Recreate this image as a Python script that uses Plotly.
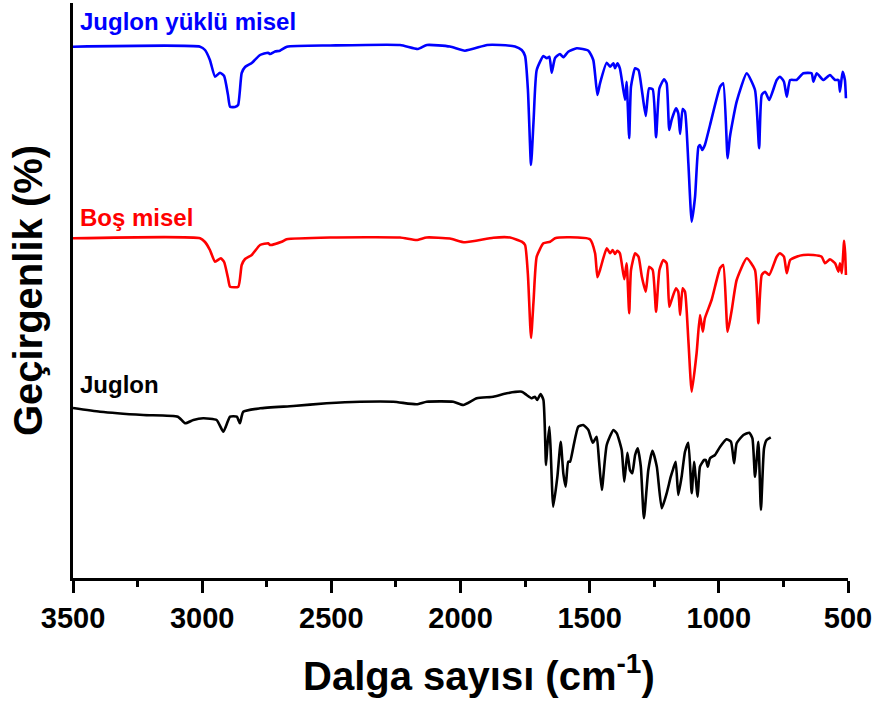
import plotly.graph_objects as go

# ---- data (wavenumber cm^-1, relative transmittance in stacked arbitrary units) ----
blue_x = [3500, 3008, 2989, 2970, 2950, 2931, 2915, 2900, 2892, 2873, 2861, 2847, 2834, 2808, 2776, 2745, 2737, 2718, 2699, 2672,
          2505, 2234, 2165, 2130, 2041, 1983, 1897, 1847, 1789, 1763, 1750, 1739, 1727, 1717, 1705, 1679, 1666, 1656, 1647, 1634,
          1615, 1602, 1583, 1550, 1505, 1486, 1470, 1460, 1434, 1421, 1408, 1402, 1393, 1383, 1363, 1357, 1347, 1340, 1324, 1311,
          1298, 1283, 1270, 1256, 1243, 1230, 1212, 1202, 1192, 1183, 1166, 1157, 1150, 1140, 1131, 1118, 1105, 1092, 1079, 1073,
          1064, 1054, 1034, 995, 983, 966, 957, 931, 892, 860, 844, 834, 821, 805, 776, 763, 748, 737, 724, 699,
          673, 641, 634, 621, 596, 570, 550, 537, 531, 521, 512, 508]
blue_y = [531.3, 531.3, 528, 518, 501.3, 505.3, 502, 483, 471.3, 471, 473, 505, 511, 515, 523, 525.3, 524, 526.5, 527.3, 531.3,
          532.5, 533, 529, 533, 531.5, 527.3, 533, 533, 531.5, 528, 522, 488, 413, 458, 508, 522, 519.7, 521.3, 505.3, 520,
          524, 520.7, 526.3, 529.7, 527.3, 518, 483, 494.7, 515.3, 511.3, 514.7, 509.7, 514.7, 509.7, 478, 496.3, 439.7, 491.3, 509.7, 508,
          488, 462, 489.7, 488.7, 440.7, 489.7, 498.7, 494.7, 448, 458, 469.7, 464.7, 444, 469, 466.3, 415, 356.3, 381.3, 431.3, 433,
          428, 433, 453, 491.3, 494.7, 419.7, 441.3, 476.3, 504.7, 488, 429.7, 483, 486.3, 478, 498, 501.3, 496.3, 481.3, 498, 498,
          504.7, 504.7, 496.3, 504.7, 498, 503, 498, 498, 486.3, 506.3, 498, 479.7]

red_x = [3500, 3008, 2989, 2970, 2950, 2928, 2915, 2900, 2892, 2860, 2847, 2834, 2808, 2776, 2744, 2737, 2692, 2673, 2505, 2234,
         2170, 2131, 2041, 1983, 1873, 1808, 1763, 1750, 1739, 1727, 1717, 1705, 1679, 1653, 1634, 1576, 1499, 1479, 1470, 1460,
         1434, 1421, 1411, 1402, 1393, 1383, 1366, 1357, 1347, 1340, 1324, 1311, 1298, 1283, 1270, 1256, 1243, 1230, 1215, 1202,
         1192, 1183, 1166, 1157, 1150, 1140, 1131, 1118, 1105, 1086, 1073, 1062, 1054, 1028, 995, 983, 966, 950, 931, 892,
         860, 847, 834, 821, 805, 776, 763, 748, 737, 724, 699, 673, 634, 602, 589, 570, 550, 537, 531, 524,
         515, 511, 508]
red_y = [339.7, 339.7, 336, 328, 316.3, 319.7, 316, 300, 291.3, 291.3, 313, 319, 323, 333, 334.7, 333, 336.3, 338.7, 340.5, 340.5,
         338, 340.5, 339.5, 335.7, 340.3, 340.5, 336.3, 333, 303, 240, 278, 321.3, 334.7, 336.3, 339.7, 340.7, 338.7, 324.7, 300.7, 308,
         329.7, 324.7, 328, 324, 327.3, 324.7, 298.7, 314.7, 264.7, 308, 324.7, 321.3, 301.3, 286.3, 311.3, 308, 266.3, 308, 318, 314.7,
         271.3, 278, 289.7, 286.3, 263, 289.7, 286.3, 238, 186.3, 225, 263, 246.3, 259.7, 278, 310, 313, 246.3, 268, 298, 319.7,
         308, 254.7, 303, 306.3, 303, 321.3, 324.7, 321.3, 304.7, 318, 321.3, 323, 323, 321.3, 314.7, 318.7, 314.7, 306.3, 314.7, 304.7,
         337.3, 324.7, 303]

black_x = [3500, 3395, 3228, 3094, 3066, 3034, 2996, 2944, 2918, 2892, 2866, 2854, 2841, 2776, 2647, 2518, 2389, 2260, 2170, 2131,
           2028, 1989, 1937, 1873, 1821, 1763, 1744, 1724, 1712, 1703, 1690, 1679, 1669, 1664, 1656, 1651, 1641, 1625, 1612, 1602,
           1593, 1583, 1576, 1563, 1544, 1525, 1505, 1488, 1473, 1464, 1453, 1434, 1408, 1395, 1376, 1366, 1354, 1344, 1335, 1324,
           1314, 1302, 1290, 1273, 1257, 1240, 1221, 1202, 1186, 1176, 1167, 1157, 1144, 1131, 1118, 1105, 1096, 1082, 1073, 1057,
           1050, 1043, 1034, 1015, 995, 970, 953, 941, 931, 905, 882, 870, 860, 847, 837, 825, 815, 799]
black_y = [170, 166.3, 163, 161.3, 154.7, 158, 159.7, 158, 146.3, 161.3, 161.3, 154.7, 166.3, 169.7, 172, 174.7, 176.3, 176.3, 173.7, 176.3,
           176.3, 173, 179.7, 181.3, 184.7, 186.3, 183, 179.7, 181.3, 178, 184, 178, 113, 131.3, 151.3, 128, 71.3, 101.3, 136.3, 104.7,
           91.3, 116.3, 116.3, 131.3, 151.3, 153, 148, 135.3, 141.3, 118, 88, 133, 148, 144.7, 128, 96.3, 125.3, 108, 104.7, 123,
           129.7, 111.3, 59.7, 108, 127.3, 111.3, 69.7, 84.7, 101.3, 109.7, 116.3, 83, 101.3, 126.3, 135.3, 84.7, 116.3, 81.3, 111.3, 118,
           118, 111.3, 119.7, 123, 131.3, 138.7, 136.3, 114.7, 134.7, 143, 145.3, 139.7, 101.3, 136.3, 68, 129.7, 138, 140.7]

series_names = ["Juglon yüklü misel", "Boş misel", "Juglon"]
series_colors = ["#0000FF", "#FF0000", "#000000"]
label_y = [557, 361, 194]

x_ticks = [3500, 3000, 2500, 2000, 1500, 1000, 500]

FONT = "Liberation Sans, Arial, sans-serif"

fig = go.Figure()
for xs, ys, name, col in zip([blue_x, red_x, black_x], [blue_y, red_y, black_y], series_names, series_colors):
    fig.add_trace(go.Scatter(x=xs, y=ys, mode="lines", name=name,
                             line=dict(color=col, width=2.6, shape="spline", smoothing=0.5),
                             showlegend=False))

for name, col, ly in zip(series_names, series_colors, label_y):
    fig.add_annotation(x=3480, y=ly, xref="x", yref="y", text=name, showarrow=False,
                       xanchor="left", yanchor="middle",
                       font=dict(family=FONT, size=24, color=col, weight="bold"))

# x-axis title placed as annotation (slightly right of centre as in the reference)
fig.add_annotation(x=0.524, y=-0.165, xref="paper", yref="paper",
                   text="Dalga sayısı (cm<sup>-1</sup>)", showarrow=False,
                   xanchor="center", yanchor="middle",
                   font=dict(family=FONT, size=40, color="black", weight="bold"))

fig.update_layout(
    width=876, height=702,
    margin=dict(l=73, r=28, t=3, b=124, autoexpand=False),
    plot_bgcolor="white", paper_bgcolor="white",
    font=dict(family=FONT, color="black"),
)
fig.update_xaxes(
    range=[3500, 500], tickvals=x_ticks, ticktext=[str(v) for v in x_ticks],
    showline=True, linecolor="black", linewidth=3, mirror=False,
    ticks="outside", ticklen=12, tickwidth=3, tickcolor="black",
    minor=dict(ticks="outside", ticklen=6, tickwidth=3, tickcolor="black", dtick=250, tick0=500),
    showgrid=False, zeroline=False, automargin=False,
    tickfont=dict(family=FONT, size=29, color="black", weight="bold"),
)
fig.update_yaxes(
    range=[0, 575], showline=True, linecolor="black", linewidth=3,
    showticklabels=False, ticks="", showgrid=False, zeroline=False, automargin=False,
    title=dict(text="Geçirgenlik (%)", standoff=16,
               font=dict(family=FONT, size=40, color="black", weight="bold")),
)

# remove the default page margin so the figure sits at the window's top-left corner
fig.write_html("out.html", config={"displayModeBar": False},
               post_script="document.body.style.margin='0px';")
